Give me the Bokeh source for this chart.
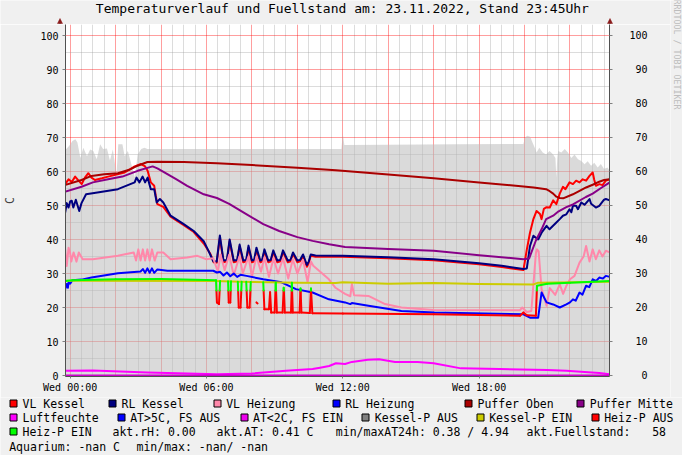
import math
from bokeh.plotting import figure
from bokeh.layouts import column, row
from bokeh.models import Range1d, LinearAxis, FixedTicker
from bokeh.core.properties import value
from bokeh.embed import file_html
from bokeh.resources import INLINE

NAN = float("nan")

# ---------------- data (hour of day, value) ----------------
TITLE = "Temperaturverlauf und Fuellstand am: 23.11.2022, Stand 23:45Uhr"
Y_LABEL = "C"
WATERMARK = "RRDTOOL / TOBI OETIKER"
X_TICKS = [0, 6, 12, 18]
X_TICK_LABELS = ["Wed 00:00", "Wed 06:00", "Wed 12:00", "Wed 18:00"]
Y_TICKS = [0, 10, 20, 30, 40, 50, 60, 70, 80, 90, 100]

FUELLSTAND = [(-0.25, 66.5), (-0.17, 66.6), (-0.05, 67.5), (0.1, 69.0), (0.23, 69.5), (0.32, 68.5),
              (0.45, 64.0), (0.58, 67.0), (0.74, 64.5), (0.88, 66.5), (1.02, 66.0), (1.17, 63.6),
              (1.32, 68.0), (1.45, 66.6), (1.62, 66.8), (1.75, 63.2), (1.88, 66.5), (2.04, 59.2),
              (2.12, 68.0), (2.3, 68.0), (2.4, 64.5), (2.54, 66.0), (2.7, 62.0), (2.85, 58.2),
              (2.97, 65.0), (3.13, 66.6), (3.27, 67.0), (3.4, 66.6), (6.0, 66.6), (9.0, 66.6),
              (11.94, 66.6), (12.0, 71.2), (12.07, 67.8), (14.0, 67.9), (17.0, 68.0), (19.95, 68.1),
              (20.02, 70.0), (20.12, 70.5), (20.25, 70.2), (20.35, 68.5), (20.45, 67.0), (20.53, 65.6),
              (20.65, 67.0), (20.8, 65.6), (20.95, 65.0), (21.1, 66.0), (21.26, 65.0), (21.36, 64.0),
              (21.4, 58.2), (21.44, 64.0), (21.48, 66.0), (21.62, 65.6), (21.77, 66.6), (21.91, 65.6),
              (22.06, 64.0), (22.2, 65.0), (22.35, 63.6), (22.5, 63.1), (22.64, 62.1), (22.78, 63.0),
              (22.93, 61.7), (23.07, 62.6), (23.22, 61.2), (23.36, 62.2), (23.5, 60.7), (23.65, 61.2),
              (23.75, 60.2)]

VL_KESSEL = [(-0.22, 56.3), (-0.07, 57.7), (0.07, 56.9), (0.22, 58.5), (0.36, 57.4), (0.51, 56.3),
             (0.65, 58.2), (0.8, 59.5), (0.94, 58.2), (1.09, 57.5), (1.4, 58.0), (1.67, 58.5),
             (2.4, 59.7), (2.84, 61.5), (3.12, 62.2), (3.3, 61.5), (3.41, 60.2), (3.55, 56.8),
             (3.7, 55.8), (3.77, 52.8), (3.84, 50.4), (4.1, 49.6), (4.42, 46.7), (5.0, 44.2),
             (5.44, 42.2), (5.88, 38.8), (6.17, 35.8), (6.32, 33.3), (6.45, 33.2), (6.59, 40.5),
             (6.75, 33.3), (6.9, 33.6), (7.02, 39.5), (7.2, 33.3), (7.35, 33.6), (7.46, 38.0),
             (7.62, 33.3), (7.75, 33.6), (7.85, 37.6), (8.0, 33.3), (8.1, 33.6), (8.2, 37.0),
             (8.37, 33.3), (8.45, 33.6), (8.55, 36.6), (8.72, 33.3), (8.83, 33.6), (8.94, 36.3),
             (9.12, 33.3), (9.25, 33.6), (9.37, 36.3), (9.58, 33.3), (9.7, 33.6), (9.81, 35.8),
             (10.0, 33.3), (10.12, 33.6), (10.25, 35.2), (10.42, 32.0), (10.5, 33.0), (10.59, 35.2),
             (10.8, 34.9), (12.0, 34.9), (14.0, 34.5), (16.0, 33.9), (18.0, 32.7), (19.0, 31.9),
             (19.95, 31.0), (20.1, 37.0), (20.24, 42.0), (20.39, 46.0), (20.53, 48.4), (20.68, 47.5),
             (20.75, 46.0), (20.85, 49.0), (20.97, 49.5), (21.11, 49.4), (21.26, 51.5), (21.4, 50.4),
             (21.55, 53.5), (21.69, 55.5), (21.8, 54.8), (21.98, 56.8), (22.13, 56.3), (22.27, 57.3),
             (22.42, 56.8), (22.56, 57.7), (22.71, 57.3), (22.86, 58.7), (23.0, 59.7), (23.07, 57.5),
             (23.14, 55.8), (23.29, 56.3), (23.43, 56.0), (23.58, 57.3), (23.75, 57.7)]

RL_KESSEL = [(-0.22, 47.9), (-0.15, 50.7), (-0.07, 49.4), (0.0, 51.2), (0.07, 51.4), (0.14, 49.4),
             (0.25, 51.7), (0.4, 48.4), (0.5, 50.7), (0.7, 53.3), (1.2, 53.8), (2.1, 54.8),
             (2.84, 56.8), (2.92, 58.2), (3.05, 56.8), (3.19, 58.5), (3.3, 56.8), (3.41, 58.2),
             (3.55, 54.8), (3.7, 54.8), (3.81, 50.9), (3.95, 51.9), (4.1, 50.9), (4.42, 47.0),
             (5.0, 44.5), (5.44, 42.5), (5.88, 39.5), (6.1, 36.5), (6.3, 33.6), (6.45, 33.5),
             (6.59, 41.2), (6.75, 33.8), (6.9, 34.0), (7.02, 40.0), (7.2, 33.8), (7.35, 34.0),
             (7.46, 38.5), (7.62, 33.8), (7.75, 34.0), (7.85, 38.2), (8.0, 33.8), (8.1, 34.0),
             (8.2, 37.6), (8.37, 33.8), (8.45, 34.0), (8.55, 37.1), (8.72, 33.8), (8.83, 34.0),
             (8.94, 36.8), (9.12, 33.8), (9.25, 34.0), (9.37, 36.8), (9.58, 33.8), (9.7, 34.0),
             (9.81, 36.2), (10.0, 33.8), (10.12, 34.0), (10.25, 35.6), (10.42, 32.5), (10.5, 33.5),
             (10.59, 35.6), (10.8, 35.3), (12.0, 35.2), (14.0, 34.8), (16.0, 34.2), (18.0, 33.0),
             (19.0, 32.3), (19.95, 31.3), (20.1, 31.5), (20.24, 38.1), (20.39, 41.1), (20.6, 40.0),
             (20.75, 42.0), (20.97, 44.0), (21.1, 43.0), (21.4, 45.0), (21.55, 46.0), (21.69, 47.0),
             (21.84, 47.4), (21.98, 48.9), (22.06, 48.0), (22.13, 49.9), (22.27, 49.9), (22.35, 48.9),
             (22.5, 50.9), (22.64, 50.2), (22.86, 51.9), (22.93, 50.5), (23.14, 49.4), (23.29, 49.9),
             (23.5, 51.7), (23.58, 51.9), (23.75, 51.5)]

VL_HEIZUNG = [(-0.22, 37.1), (-0.15, 32.2), (-0.07, 37.6), (0.0, 36.0), (0.05, 33.5), (0.15, 36.2),
              (0.28, 33.5), (0.38, 36.2), (0.55, 34.2), (1.0, 34.2), (2.1, 35.2), (2.8, 36.2),
              (2.9, 33.8), (3.0, 37.1), (3.1, 33.8), (3.2, 37.1), (3.3, 33.8), (3.4, 37.1),
              (3.5, 33.8), (3.6, 37.1), (3.72, 33.8), (3.84, 36.2), (4.1, 36.2), (4.42, 34.2),
              (5.15, 34.7), (5.6, 35.2), (6.0, 34.2), (6.3, 34.5), (6.5, 30.5), (6.62, 35.5),
              (6.8, 31.0), (7.0, 35.5), (7.2, 29.5), (7.45, 35.0), (7.6, 30.0), (7.85, 35.0),
              (8.0, 29.0), (8.2, 35.0), (8.4, 30.5), (8.55, 34.8), (8.75, 29.0), (8.95, 34.5),
              (9.15, 30.0), (9.37, 34.5), (9.6, 28.5), (9.8, 34.2), (10.0, 30.0), (10.25, 34.0),
              (10.45, 27.5), (10.6, 33.5), (10.7, 32.3), (11.39, 28.3), (11.68, 25.8), (12.1, 24.0),
              (12.33, 23.3), (12.4, 26.9), (12.5, 23.6), (13.13, 23.4), (13.86, 21.0), (14.58, 20.0),
              (16.0, 19.3), (19.8, 19.2), (19.9, 20.0), (20.1, 18.7), (20.3, 19.0), (20.5, 36.0),
              (20.55, 37.1), (20.62, 36.5), (20.75, 25.4), (20.97, 20.5), (21.11, 25.7), (21.35, 23.7),
              (21.55, 26.8), (21.7, 24.0), (21.85, 26.5), (22.0, 28.3), (22.2, 29.3), (22.42, 33.2),
              (22.6, 35.0), (22.71, 38.1), (22.86, 33.5), (23.0, 37.1), (23.14, 34.2), (23.29, 36.8),
              (23.43, 35.0), (23.58, 36.7), (23.75, 36.2)]

RL_HEIZUNG = [(-0.22, 25.4), (-0.15, 26.9), (-0.1, 25.8), (-0.07, 27.4), (0.0, 27.0), (0.1, 28.0),
              (0.5, 28.2), (0.94, 28.8), (2.1, 30.1), (3.1, 30.6), (3.2, 31.3), (3.3, 30.2),
              (3.4, 31.5), (3.5, 30.2), (3.6, 31.5), (3.7, 30.2), (3.84, 31.2), (4.28, 30.8),
              (5.5, 30.8), (6.3, 30.8), (6.46, 30.3), (6.6, 30.5), (6.75, 29.4), (6.9, 30.3),
              (7.05, 29.2), (7.2, 30.0), (7.35, 29.0), (7.5, 29.6), (7.76, 29.3), (8.5, 28.3),
              (9.3, 27.4), (9.94, 25.4), (10.67, 24.4), (11.39, 22.4), (12.1, 21.5), (12.33, 21.0),
              (12.4, 21.3), (13.13, 20.5), (14.58, 19.0), (16.03, 18.5), (19.95, 18.0), (20.24, 17.0),
              (20.6, 17.0), (20.75, 24.4), (20.97, 21.5), (21.26, 20.9), (21.55, 20.0), (21.84, 20.9),
              (22.0, 21.5), (22.13, 22.4), (22.25, 22.0), (22.42, 24.4), (22.55, 23.8), (22.71, 26.4),
              (22.85, 26.0), (23.0, 28.3), (23.15, 27.8), (23.29, 28.8), (23.45, 28.5), (23.58, 29.3),
              (23.75, 29.0)]

PUFFER_OBEN = [(-0.25, 56.0), (0.5, 57.5), (0.94, 58.7), (1.5, 59.2), (2.1, 59.5), (2.6, 60.5),
               (2.97, 61.7), (3.4, 62.8), (3.84, 62.9), (5.0, 62.8), (6.46, 62.4), (8.0, 61.9),
               (10.0, 61.1), (11.7, 60.4), (14.0, 59.1), (16.0, 58.0), (18.0, 56.8), (19.5, 55.9),
               (20.4, 55.3), (20.95, 54.8), (21.11, 54.2), (21.26, 53.5), (21.4, 52.6), (21.55, 52.2),
               (21.7, 52.1), (22.13, 53.3), (22.71, 55.3), (23.0, 56.1), (23.29, 57.0), (23.5, 57.5),
               (23.75, 57.7)]

PUFFER_MITTE = [(-0.25, 54.0), (0.5, 55.5), (1.0, 56.8), (1.67, 57.7), (2.3, 58.5), (2.97, 60.2),
                (3.63, 61.5), (3.84, 60.9), (4.28, 59.2), (4.7, 57.6), (5.15, 55.8), (5.88, 53.3),
                (6.46, 52.2), (7.0, 50.5), (7.77, 47.4), (8.5, 44.5), (9.2, 42.5), (10.0, 40.7),
                (10.67, 39.6), (11.4, 38.6), (12.1, 37.8), (14.0, 37.2), (16.0, 36.7), (18.0, 35.4),
                (19.95, 34.2), (20.2, 34.4), (20.5, 39.7), (20.75, 43.0), (20.95, 46.0), (21.26, 47.0),
                (21.5, 48.3), (21.84, 49.5), (22.13, 50.3), (22.7, 52.5), (23.0, 53.5), (23.4, 55.3),
                (23.75, 56.8)]

LUFTFEUCHTE = [(-0.25, 1.4), (1.0, 1.5), (3.41, 0.9), (6.46, 0.4), (8.0, 0.6), (9.5, 1.4),
               (10.67, 1.9), (11.0, 2.3), (11.4, 2.8), (11.7, 3.6), (12.1, 3.4), (12.4, 4.0),
               (13.1, 4.6), (13.6, 4.8), (14.3, 4.0), (15.3, 4.0), (16.0, 3.6), (17.2, 2.1),
               (18.9, 1.9), (21.0, 1.6), (21.84, 1.4), (23.29, 0.7), (23.75, 0.4)]

AT_UNTER_2C = [(-0.25, 0.0), (23.75, 0.0)]

KESSEL_P = [(-0.25, 27.9), (6.3, 27.8), (8.0, 27.5), (10.0, 27.3), (11.7, 27.2), (12.0, 27.4),
            (14.0, 27.0), (16.0, 27.2), (18.0, 26.9), (20.4, 26.8), (20.6, 27.3), (23.75, 27.6)]

# Heizungspumpe: line is green (EIN) above the switch level and red (AUS) below it
HEIZ_P_LEVEL = 25.0
HEIZ_P = [(-0.25, 27.8), (0.1, 28.0), (2.0, 28.3), (4.0, 28.4), (6.0, 28.1), (6.42, 28.0),
          (6.46, 21.5), (6.55, 21.0), (6.6, 27.8), (NAN, NAN),
          (6.95, 27.7), (6.98, 21.5), (7.05, 21.5), (7.08, 27.7), (NAN, NAN),
          (7.38, 27.6), (7.42, 20.0), (7.5, 20.0), (7.55, 27.6), (NAN, NAN),
          (7.75, 27.6), (7.8, 20.0), (7.9, 20.0), (7.95, 27.5), (NAN, NAN),
          (8.2, 21.5), (8.25, 21.2), (NAN, NAN),
          (8.5, 27.4), (8.55, 19.5), (8.75, 19.5), (8.8, 24.5), (8.85, 18.5), (9.0, 18.5),
          (9.05, 27.3), (9.1, 18.5), (9.35, 18.5), (9.4, 25.8), (9.45, 18.5), (9.72, 18.5),
          (9.76, 27.3), (9.8, 18.5), (10.1, 18.5), (10.14, 25.6), (10.18, 18.5), (10.55, 18.4),
          (10.6, 25.6), (10.66, 18.3), (12.0, 18.2), (16.0, 18.0), (19.8, 17.6), (19.95, 18.5),
          (20.1, 17.7), (20.5, 17.6), (20.55, 26.4), (21.0, 27.0), (22.0, 27.3), (23.0, 27.6),
          (23.75, 27.8)]

LEGEND_ROW1 = [("VL Kessel", "#ff0000"), ("RL Kessel", "#000080"), ("VL Heizung", "#ff88aa"),
               ("RL Heizung", "#0000ff"), ("Puffer Oben", "#aa0000"), ("Puffer Mitte", "#880088")]
LEGEND_ROW2 = [("Luftfeuchte", "#ff00ff"), ("AT>5C, FS AUS", "#0000ff"), ("AT<2C, FS EIN", "#ee00ee"),
               ("Kessel-P AUS", "#808080"), ("Kessel-P EIN", "#cccc00"), ("Heiz-P AUS", "#ff0000")]
LEGEND_ROW3 = [("Heiz-P EIN", "#00ff00")]
AKT_RH = "0.00"
AKT_AT = "0.41"
MIN_AT24 = "0.38"
MAX_AT24 = "4.94"
AKT_FUELLSTAND = "58"
AQUARIUM = "-nan"
AQ_MIN = "-nan"
AQ_MAX = "-nan"

# ---------------- layout ----------------
FONT = "DejaVu Sans Mono"
BG = "#f0f0f0"
PAGE_X0 = 71.7      # page x of hour 0
PX_PER_H = 22.97
PAGE_Y0 = 383.0     # page y of value 0
PX_PER_C = 3.4
FULL_W = 682
PLOT_W = 670        # width of title strip and plot; the rest holds the watermark


def tx(px):
    return (px - PAGE_X0) / PX_PER_H


def vy(py):
    return (PAGE_Y0 - py) / PX_PER_C


def xs_of(pts):
    return [a for a, _ in pts]


def ys_of(pts):
    return [b for _, b in pts]


def pixel_canvas(x0, y0, w, h):
    """A figure whose data coordinates are page pixels (y downwards)."""
    f = figure(width=w, height=h, output_backend="svg", toolbar_location=None,
               x_range=Range1d(x0, x0 + w), y_range=Range1d(y0 + h, y0),
               min_border=0, min_border_left=0, min_border_right=0, min_border_top=0,
               min_border_bottom=0, x_axis_location=None, y_axis_location=None,
               background_fill_color=BG, border_fill_color=BG, outline_line_color=None)
    f.xgrid.visible = False
    f.ygrid.visible = False
    f.frame_align = False
    return f


# ---- title strip (page y 8..32) ----
top = pixel_canvas(8, 8, PLOT_W, 24)
top.text(x=[349.9], y=[16.2], text=[TITLE], text_font=value(FONT), text_font_size=value("13px"),
         text_align="center", text_baseline="middle", text_color="#000000")
for ax_x in (67.5, 617.5):
    top.segment(x0=[ax_x], y0=[28], x1=[ax_x], y1=[32], line_color="#505050", line_width=1)
top.patches(xs=[[65.0, 67.5, 70.0], [615.0, 617.5, 620.0]], ys=[[31.0, 26.0, 31.0], [31.0, 26.0, 31.0]],
            fill_color="#8b1a1a", line_color="#8b1a1a", line_width=0.5)

# ---- main plot (page y 32..405) ----
p = figure(width=PLOT_W, height=373, output_backend="svg", toolbar_location=None,
           x_range=Range1d(tx(67), tx(617)), y_range=Range1d(vy(384), vy(32)),
           min_border_left=59, min_border_right=PLOT_W + 8 - 617, min_border_top=0, min_border_bottom=21,
           background_fill_color="#ffffff", border_fill_color=BG, outline_line_color=None)
p.frame_align = False

maj_x = list(range(0, 24, 2))
min_x = [h / 2 for h in range(0, 48) if (h / 2) % 2 != 0]
p.xgrid.ticker = FixedTicker(ticks=maj_x, minor_ticks=min_x)
p.ygrid.ticker = FixedTicker(ticks=Y_TICKS, minor_ticks=[v + 5 for v in Y_TICKS])
for g in (p.xgrid, p.ygrid):
    g.grid_line_color = "#ff0000"
    g.grid_line_alpha = 0.38
    g.minor_grid_line_color = "#9a9a9a"
    g.minor_grid_line_alpha = 0.35

xa = p.xaxis[0]
xa.ticker = FixedTicker(ticks=X_TICKS)
xa.major_label_overrides = {t: s for t, s in zip(X_TICKS, X_TICK_LABELS)}
ya = p.yaxis[0]
ya.ticker = FixedTicker(ticks=Y_TICKS)
ra = LinearAxis(ticker=FixedTicker(ticks=Y_TICKS),
                major_label_overrides={v: ("\u00a0" * (3 - len(str(v)))) + str(v) for v in Y_TICKS})
p.add_layout(ra, "right")
for ax in (xa, ya, ra):
    ax.axis_line_color = "#505050"
    ax.axis_line_width = 1
    ax.major_tick_line_color = "#808080"
    ax.major_tick_in = 0
    ax.minor_tick_line_color = None
    ax.major_label_text_font = FONT
    ax.major_label_text_font_size = "10px"
    ax.major_label_text_color = "#000000"
xa.major_tick_out = 2
xa.major_label_standoff = 3
ya.major_tick_out = 3
ya.major_label_standoff = 4
ra.major_tick_out = 3
ra.major_label_standoff = 17
ya.axis_label = Y_LABEL
ya.axis_label_text_font = FONT
ya.axis_label_text_font_size = "11.5px"
ya.axis_label_text_font_style = "normal"
ya.axis_label_standoff = 20

p.varea(x=xs_of(FUELLSTAND), y1=0, y2=ys_of(FUELLSTAND), fill_color="#bcbcbc", fill_alpha=0.55)


def line(pts, color, width=2):
    p.line(xs_of(pts), ys_of(pts), line_color=color, line_width=width, line_join="round")


line(VL_KESSEL, "#ff0000")
line(RL_KESSEL, "#000080")
line(VL_HEIZUNG, "#ff88aa")
line(RL_HEIZUNG, "#0000ff")
line(PUFFER_OBEN, "#aa0000")
line(PUFFER_MITTE, "#880088")
line(LUFTFEUCHTE, "#ff00ff")
line(AT_UNTER_2C, "#cc00cc")
line(KESSEL_P, "#cccc00")

on_xs, on_ys, off_xs, off_ys = [], [], [], []
for (t0, v0), (t1, v1) in zip(HEIZ_P[:-1], HEIZ_P[1:]):
    if any(math.isnan(a) for a in (t0, v0, t1, v1)):
        continue
    a0, a1 = v0 >= HEIZ_P_LEVEL, v1 >= HEIZ_P_LEVEL
    if a0 == a1:
        (on_xs if a0 else off_xs).append([t0, t1])
        (on_ys if a0 else off_ys).append([v0, v1])
    else:
        f = (HEIZ_P_LEVEL - v0) / (v1 - v0)
        tc = t0 + f * (t1 - t0)
        (on_xs if a0 else off_xs).append([t0, tc])
        (on_ys if a0 else off_ys).append([v0, HEIZ_P_LEVEL])
        (on_xs if a1 else off_xs).append([tc, t1])
        (on_ys if a1 else off_ys).append([HEIZ_P_LEVEL, v1])
p.multi_line(off_xs, off_ys, line_color="#ff0000", line_width=2, line_cap="round")
p.multi_line(on_xs, on_ys, line_color="#00ff00", line_width=2, line_cap="round")

# ---- watermark strip at the right edge (page x 678..690, y 8..405) ----
wm = pixel_canvas(8 + PLOT_W, 8, FULL_W - PLOT_W, 24 + 373)
wm.text(x=[684.8], y=[62.0], text=[WATERMARK], text_font=value(FONT), text_font_size=value("8.3px"),
        text_align="center", text_baseline="middle", text_color="#bdbdbd", angle=-math.pi / 2)

# ---- legend strip (page y 405..463) ----
lg = pixel_canvas(8, 405, FULL_W, 58)

ROW_Y = [411.0, 425.3, 439.3, 454.3]
ROW1_X = [30, 129, 233.7, 352.7, 485, 597.3]
ROW2_X = [30, 137.7, 260.5, 382.3, 496.7, 611.7]
ROW3_X = [30]

sw_l, sw_r, sw_t, sw_b, sw_c = [], [], [], [], []
t_x, t_y, t_s = [], [], []
for items, xs, yy in ((LEGEND_ROW1, ROW1_X, ROW_Y[0]), (LEGEND_ROW2, ROW2_X, ROW_Y[1]),
                      (LEGEND_ROW3, ROW3_X, ROW_Y[2])):
    for (name, col), x0 in zip(items, xs):
        left = round(x0 - 13.0) + 0.5
        top_y = round(yy - 4.0) + 0.5
        sw_l.append(left)
        sw_r.append(left + 7)
        sw_t.append(top_y)
        sw_b.append(top_y + 7)
        sw_c.append(col)
        t_x.append(x0)
        t_y.append(yy)
        t_s.append(name)

extra = [(120, ROW_Y[2], "akt.rH: " + AKT_RH),
         (224, ROW_Y[2], "akt.AT: " + AKT_AT + " C"),
         (343.3, ROW_Y[2], "min/maxAT24h: " + MIN_AT24 + " / " + MAX_AT24),
         (534, ROW_Y[2], "akt.Fuellstand:"),
         (16.7, ROW_Y[3], "Aquarium: " + AQUARIUM + " C"),
         (144, ROW_Y[3], "min/max: " + AQ_MIN + "/ " + AQ_MAX)]
for x0, yy, s in extra:
    t_x.append(x0)
    t_y.append(yy)
    t_s.append(s)

lg.quad(left=sw_l, right=sw_r, top=sw_t, bottom=sw_b, fill_color=sw_c,
        line_color="#000000", line_width=1)
lg.text(x=t_x, y=t_y, text=t_s, text_font=value(FONT), text_font_size=value("11.5px"),
        text_baseline="middle", text_align="left", text_color="#000000")
lg.text(x=[673.5], y=[ROW_Y[2]], text=[AKT_FUELLSTAND], text_font=value(FONT),
        text_font_size=value("11.5px"), text_baseline="middle", text_align="right",
        text_color="#000000")

upper = row(column(top, p, spacing=0), wm, spacing=0)
layout = column(upper, lg, spacing=0)
html = file_html(layout, INLINE)
html = html.replace("<body>", '<body style="background-color:#f0f0f0;">', 1)
open("out.html", "w").write(html)
